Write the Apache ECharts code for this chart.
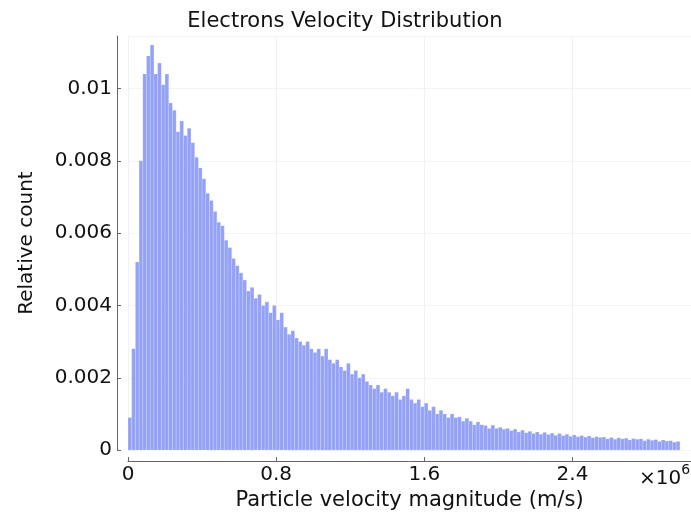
<!DOCTYPE html>
<html>
<head>
<meta charset="utf-8">
<script src="https://cdn.jsdelivr.net/npm/echarts@6/dist/echarts.min.js"></script>
<style>
  html, body { margin: 0; padding: 0; background: #fff; }
  #chart { width: 691px; height: 516px; }
</style>
</head>
<body>
<div id="chart"></div>
<script>
// histogram bins: width 0.02e6 m/s starting at 0
let binWidth = 20000;
let counts = [
    0.0009, 0.0028, 0.0052, 0.0080, 0.0104, 0.0109, 0.0112, 0.0104, 0.0107, 0.0101,
    0.0104, 0.0096, 0.0094, 0.0088, 0.0091, 0.0087, 0.0089, 0.0085, 0.0081, 0.0078,
    0.0075, 0.0071, 0.0069, 0.0066, 0.0063, 0.0062, 0.0058, 0.0056, 0.0053, 0.0051,
    0.0049, 0.0047, 0.0044, 0.0045, 0.0042, 0.0043, 0.0040, 0.0041, 0.0038, 0.0040,
    0.0036, 0.0038, 0.0034, 0.0032, 0.0033, 0.0031, 0.0030, 0.0029, 0.0030, 0.0028,
    0.0027, 0.0028, 0.0026, 0.0028, 0.0025, 0.0024, 0.0025, 0.0023, 0.0022, 0.0024,
    0.0021, 0.0022, 0.0020, 0.0021, 0.0019, 0.0018, 0.0017, 0.0018, 0.0016, 0.0017,
    0.0016, 0.0015, 0.0016, 0.0014, 0.0015, 0.0017, 0.0014, 0.0013, 0.0014, 0.0012,
    0.0013, 0.0011, 0.0012, 0.0010, 0.0011, 0.0010, 0.0009, 0.0010, 0.0009, 0.00092,
    0.0008, 0.00088, 0.0008, 0.0007, 0.00078, 0.0007, 0.00068, 0.0006, 0.00069, 0.0006,
    0.00063, 0.00058, 0.0006, 0.00054, 0.00058, 0.0005, 0.00055, 0.00048, 0.00052, 0.00046,
    0.0005, 0.00044, 0.00049, 0.00043, 0.00047, 0.00041, 0.00046, 0.0004, 0.00044, 0.00038,
    0.00042, 0.00037, 0.0004, 0.00036, 0.00039, 0.00034, 0.00037, 0.00035, 0.00036, 0.00031,
    0.00035, 0.0003, 0.00034, 0.00031, 0.00033, 0.00028, 0.00032, 0.0003, 0.00031, 0.00026,
    0.0003, 0.00027, 0.00029, 0.00024, 0.00028, 0.00025, 0.00026, 0.00022, 0.00024
];
let yTicks = [0, 0.002, 0.004, 0.006, 0.008, 0.01];
let xTicks = [0, 0.8e6, 1.6e6, 2.4e6];

let font = 'DejaVu Sans';
let bins = counts.map((c, i) => [i * binWidth, (i + 1) * binWidth, c]);

let myChart = echarts.init(document.getElementById('chart'));
let option = {
    animation: false,
    backgroundColor: '#fff',
    title: [
        {
            text: 'Electrons Velocity Distribution',
            left: 340, top: 6, textAlign: 'center',
            textStyle: { fontFamily: font, fontSize: 21, fontWeight: 'normal', color: '#111' }
        },
        {
            // axis multiplier shown at the right end of the x axis
            text: '{a|×10}{b|6}',
            left: 639, top: 463, padding: 0,
            textStyle: {
                rich: {
                    a: { fontFamily: font, fontSize: 20, fontWeight: 'normal', color: '#111', padding: [6, 0, 0, 0] },
                    b: { fontFamily: font, fontSize: 14, fontWeight: 'normal', color: '#111', verticalAlign: 'top' }
                }
            }
        }
    ],
    grid: { left: 128, right: 0, top: 36, bottom: 63 },
    xAxis: {
        type: 'value',
        min: 0, max: 3.04e6, interval: 0.8e6,
        offset: 11,
        name: 'Particle velocity magnitude (m/s)',
        nameLocation: 'middle', nameGap: 22,
        nameTextStyle: { fontFamily: font, fontSize: 21, color: '#111' },
        axisLine: { onZero: false, lineStyle: { color: '#666' } },
        axisTick: { inside: true, length: 4, lineStyle: { color: '#666' } },
        axisLabel: {
            fontFamily: font, fontSize: 20, color: '#111', margin: 4,
            showMaxLabel: false,
            formatter: v => xTicks.includes(v) ? String(+(v / 1e6).toFixed(1)) : ''
        },
        splitLine: { show: true, lineStyle: { color: '#f1f1f1' } }
    },
    yAxis: {
        type: 'value',
        min: 0, max: 0.01145, interval: 0.002,
        offset: 11,
        name: 'Relative count',
        nameLocation: 'middle', nameGap: 80,
        nameTextStyle: { fontFamily: font, fontSize: 20, color: '#111' },
        axisLine: { show: true, onZero: false, lineStyle: { color: '#666' } },
        axisTick: { show: true, inside: true, length: 4, lineStyle: { color: '#666' } },
        axisLabel: {
            fontFamily: font, fontSize: 20, color: '#111', margin: 5,
            showMaxLabel: false,
            formatter: v => yTicks.some(t => Math.abs(t - v) < 1e-9) ? String(+v.toFixed(3)) : ''
        },
        splitLine: { show: true, lineStyle: { color: '#f4f4f4' } }
    },
    series: [
        {
            type: 'custom',
            data: bins,
            encode: { x: [0, 1], y: 2 },
            renderItem: function (params, api) {
                let p0 = api.coord([api.value(0), api.value(2)]);
                let p1 = api.coord([api.value(1), 0]);
                return {
                    type: 'rect',
                    shape: { x: p0[0], y: p0[1], width: p1[0] - p0[0], height: p1[1] - p0[1] },
                    style: { fill: '#93a1f6', stroke: 'rgba(255,255,255,0.3)', lineWidth: 0.6 }
                };
            }
        }
    ]
};
myChart.setOption(option);
</script>
</body>
</html>
